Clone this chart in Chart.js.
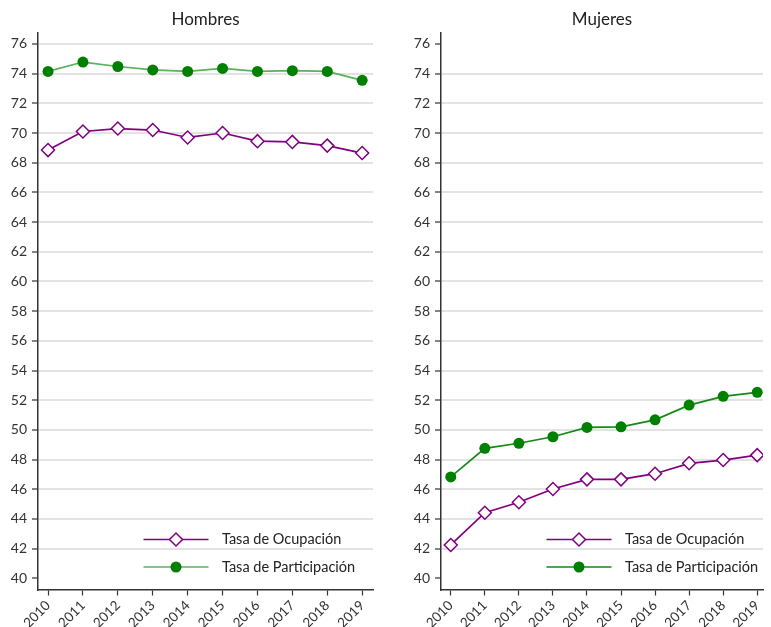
<!DOCTYPE html>
<html>
<head>
<meta charset="utf-8">
<script src="https://cdn.jsdelivr.net/npm/chart.js@4"></script>
<style>
  html, body { margin: 0; padding: 0; background: #fff; }
  canvas { position: absolute; top: 0; }
</style>
</head>
<body>
<canvas id="hombres" width="385" height="627" style="left:0"></canvas>
<canvas id="mujeres" width="368" height="627" style="left:403px"></canvas>
<script>
const years = [2010, 2011, 2012, 2013, 2014, 2015, 2016, 2017, 2018, 2019];
const hombresOcupacion = [68.85, 70.1, 70.3, 70.2, 69.7, 70.0, 69.45, 69.4, 69.15, 68.65];
const hombresParticipacion = [74.15, 74.78, 74.48, 74.25, 74.15, 74.35, 74.15, 74.2, 74.15, 73.55];
const mujeresOcupacion = [42.25, 44.42, 45.13, 46.02, 46.67, 46.67, 47.05, 47.75, 47.97, 48.3];
const mujeresParticipacion = [46.83, 48.76, 49.1, 49.54, 50.17, 50.21, 50.68, 51.67, 52.26, 52.53];
const labelOcupacion = 'Tasa de Ocupación';
const labelParticipacion = 'Tasa de Participación';

const font = 'Lato';
const textColor = '#333';

// legend drawn inside the plot area, bottom right
const insideLegend = {
    id: 'insideLegend',
    afterDatasetsDraw(chart) {
        const ctx = chart.ctx;
        const area = chart.chartArea;
        chart.data.datasets.forEach((ds, i) => {
            const y = area.bottom - 50 + i * 27.5;
            const x0 = area.left + 105.5;
            const x1 = area.left + 170.5;
            ctx.save();
            ctx.strokeStyle = ds.borderColor;
            ctx.lineWidth = ds.borderWidth;
            ctx.beginPath();
            ctx.moveTo(x0, y);
            ctx.lineTo(x1, y);
            ctx.stroke();
            ctx.fillStyle = ds.pointBackgroundColor;
            ctx.strokeStyle = ds.pointBorderColor;
            ctx.lineWidth = ds.pointBorderWidth;
            Chart.helpers.drawPoint(ctx, {
                pointStyle: ds.pointStyle,
                radius: ds.pointRadius,
                rotation: 0,
                borderWidth: ds.pointBorderWidth
            }, (x0 + x1) / 2, y);
            ctx.fillStyle = '#222';
            ctx.font = '14.5px ' + font;
            ctx.textBaseline = 'middle';
            ctx.textAlign = 'left';
            ctx.fillText(ds.label, area.left + 184, y);
            ctx.restore();
        });
    }
};

function makeChart(id, title, ocupacion, participacion, opts) {
    const ctx = document.getElementById(id).getContext('2d');
    return new Chart(ctx, {
        type: 'line',
        data: {
            datasets: [{
                    label: labelOcupacion,
                    data: years.map((y, i) => ({ x: y, y: ocupacion[i] })),
                    borderColor: '#800080',
                    borderWidth: 1.7,
                    pointStyle: 'rectRot',
                    pointRadius: 6.5,
                    pointBackgroundColor: '#fff',
                    pointBorderColor: '#800080',
                    pointBorderWidth: 1.5
                },
                {
                    label: labelParticipacion,
                    data: years.map((y, i) => ({ x: y, y: participacion[i] })),
                    borderColor: opts.greenLine,
                    borderWidth: 1.7,
                    pointStyle: 'circle',
                    pointRadius: 5.5,
                    pointBackgroundColor: '#008000',
                    pointBorderColor: '#008000',
                    pointBorderWidth: 0
                }
            ]
        },
        options: {
            responsive: false,
            animation: false,
            layout: { padding: { left: 0, right: opts.padRight, top: 0, bottom: 0 } },
            plugins: {
                legend: { display: false },
                tooltip: { enabled: false },
                title: {
                    display: true,
                    text: title,
                    fullSize: false,
                    color: '#222',
                    font: { family: font, size: 17, weight: 'normal', lineHeight: 1.2 },
                    padding: { top: 9, bottom: 3.1 }
                }
            },
            scales: {
                x: {
                    type: 'linear',
                    min: 2009.713,
                    max: opts.xMax,
                    afterFit: (s) => { s.height = 37.5; },
                    border: { color: '#333', width: 1.5 },
                    grid: { drawOnChartArea: false, tickLength: 6, tickColor: '#333', tickWidth: 1.2 },
                    ticks: {
                        stepSize: 1,
                        includeBounds: false,
                        autoSkip: false,
                        minRotation: 45,
                        maxRotation: 45,
                        padding: 2,
                        color: textColor,
                        font: { family: font, size: 13.5 },
                        callback: (v) => String(v)
                    }
                },
                y: {
                    min: 39.25,
                    max: 76.77,
                    afterFit: (s) => { s.width = 38; },
                    border: { color: '#333', width: 1.5 },
                    grid: {
                        color: (c) => (c.tick && (c.tick.value === 40 || (opts.hideTop && c.tick.value === 76))) ? 'rgba(0,0,0,0)' : '#e3e3e3',
                        lineWidth: 2,
                        tickLength: 6,
                        tickColor: '#333',
                        tickWidth: 1.2
                    },
                    ticks: {
                        stepSize: 2,
                        includeBounds: false,
                        padding: 5,
                        color: textColor,
                        font: { family: font, size: 14 }
                    }
                }
            }
        },
        plugins: [insideLegend]
    });
}

makeChart('hombres', 'Hombres', hombresOcupacion, hombresParticipacion,
    { padRight: 12, xMax: 2019.31, greenLine: '#5bb05b', hideTop: false });
makeChart('mujeres', 'Mujeres', mujeresOcupacion, mujeresParticipacion,
    { padRight: 0, xMax: 2019.17, greenLine: '#138a13', hideTop: true });
</script>
</body>
</html>
